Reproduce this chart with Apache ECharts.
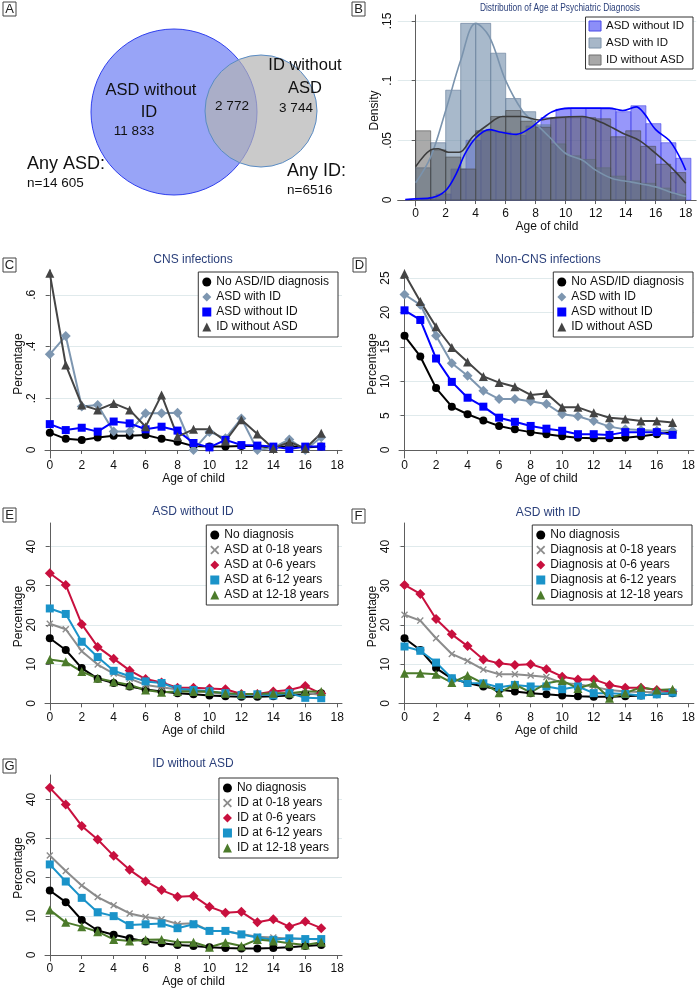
<!DOCTYPE html>
<html>
<head>
<meta charset="utf-8">
<script src="https://cdn.jsdelivr.net/npm/echarts@6/dist/echarts.min.js"></script>
<style>
  html, body { margin: 0; padding: 0; background: #fff; }
  #fig { width: 698px; height: 991px; }
</style>
</head>
<body>
<div id="fig"></div>
<script>
// ---- data ----
const ages = [0, 1, 2, 3, 4, 5, 6, 7, 8, 9, 10, 11, 12, 13, 14, 15, 16, 17];
const ageTicks = [0, 2, 4, 6, 8, 10, 12, 14, 16, 18];

// panel A (venn)
const vennCounts = ['11 833', '2 772', '3 744'];
const vennTotals = ['n=14 605', 'n=6516'];

// panel B: histogram bins (start age, density) and kernel density curves
const binStarts = [0, 1, 2, 3, 4, 5, 6, 7, 8, 9, 10, 11, 12, 13, 14, 15, 16, 17];
const binStartsAsdNoId = [0.35, 1.35, 2.35, 3.35, 4.35, 5.35, 6.35, 7.35, 8.35, 9.35, 10.35, 11.35, 12.35, 13.35, 14.35, 15.35, 16.35, 17.35];
const histAsdNoId = [0.001, 0.005, 0.026, 0.05, 0.058, 0.057, 0.054, 0.062, 0.069, 0.076, 0.077, 0.077, 0.076, 0.074, 0.079, 0.064, 0.048, 0.035];
const histAsdId = [0.027, 0.048, 0.092, 0.148, 0.148, 0.123, 0.085, 0.074, 0.063, 0.047, 0.037, 0.034, 0.027, 0.02, 0.016, 0.014, 0.01, 0.005];
const histIdNoAsd = [0.058, 0.042, 0.036, 0.026, 0.058, 0.070, 0.075, 0.066, 0.061, 0.069, 0.069, 0.069, 0.068, 0.053, 0.058, 0.045, 0.030, 0.023];
const kdeAsdNoId = [[-0.7, 0.0005], [0, 0.001], [1.1, 0.002], [2, 0.008], [2.7, 0.022], [3.3, 0.039], [4, 0.052], [4.9, 0.059], [5.6, 0.057], [6.7, 0.055], [7.6, 0.060], [8.3, 0.067], [9.1, 0.074], [10.2, 0.077], [11.6, 0.077], [12.9, 0.077], [13.8, 0.075], [14.7, 0.078], [15.2, 0.073], [16, 0.059], [16.9, 0.050], [17.6, 0.036], [18, 0.025]];
const kdeAsdId = [[0, 0.0145], [1, 0.036], [2, 0.075], [3, 0.117], [4, 0.148], [4.9, 0.137], [6, 0.100], [7.1, 0.075], [8, 0.064], [8.9, 0.053], [10, 0.039], [11.1, 0.0335], [12, 0.025], [13.1, 0.018], [14.4, 0.015], [16, 0.011], [16.9, 0.007], [18, 0.003]];
const kdeIdNoAsd = [[0, 0.028], [1, 0.042], [1.5, 0.043], [2.2, 0.040], [2.9, 0.040], [3.8, 0.053], [4.7, 0.062], [5.8, 0.070], [7.1, 0.070], [8.2, 0.067], [9.3, 0.069], [11.1, 0.070], [12.4, 0.065], [13.8, 0.056], [14.9, 0.050], [16, 0.039], [17.1, 0.0265], [18, 0.014]];

// panel C: CNS infections (%)
const cnsNone = [0.067, 0.043, 0.039, 0.048, 0.055, 0.055, 0.058, 0.043, 0.032, 0.015, 0.013, 0.013, 0.015, 0.015, 0.009, 0.015, 0.010, 0.013];
const cnsAsdId = [0.37, 0.441, 0.168, 0.174, 0.071, 0.071, 0.142, 0.142, 0.144, 0, 0.07, 0.045, 0.122, 0, 0.009, 0.041, 0, 0.049];
const cnsAsdNoId = [0.10, 0.077, 0.086, 0.071, 0.11, 0.103, 0.08, 0.09, 0.075, 0.027, 0.01, 0.039, 0.019, 0.017, 0.013, 0.004, 0.013, 0.013];
const cnsIdNoAsd = [0.683, 0.329, 0.174, 0.155, 0.18, 0.155, 0.09, 0.213, 0.052, 0.08, 0.08, 0.034, 0.117, 0.062, 0.006, 0.031, 0.006, 0.065];

// panel D: non-CNS infections (%)
const nonCnsNone = [16.6, 13.6, 9.0, 6.3, 5.2, 4.3, 3.5, 3.0, 2.6, 2.3, 2.0, 1.8, 1.7, 1.7, 1.8, 2.0, 2.3, 2.6];
const nonCnsAsdId = [22.6, 21.1, 16.6, 12.6, 10.8, 8.6, 7.4, 7.4, 7.1, 6.7, 5.2, 4.9, 4.2, 3.4, 3.0, 2.9, 2.8, 2.8];
const nonCnsAsdNoId = [20.3, 18.9, 13.3, 9.9, 7.6, 6.3, 4.7, 4.1, 3.5, 3.1, 2.8, 2.3, 2.3, 2.2, 2.6, 2.6, 2.6, 2.2];
const nonCnsIdNoAsd = [25.6, 21.6, 17.9, 14.9, 12.8, 10.7, 9.8, 9.2, 8.0, 8.2, 6.2, 6.2, 5.4, 4.7, 4.5, 4.2, 4.2, 4.0];

// panel E: ASD without ID, by age at diagnosis
const asdNoId06 = [33.2, 30.2, 20.2, 14.4, 11.4, 8.4, 6.2, 5.3, 4.0, 4.0, 3.8, 3.6, 2.4, 2.4, 3.0, 3.4, 4.4, 2.5];
const asdNoId612 = [24.2, 22.8, 15.7, 11.8, 8.3, 6.9, 5.6, 5.2, 3.7, 3.4, 3.1, 2.6, 2.1, 2.3, 2.0, 2.6, 1.4, 1.3];
const asdNoId1218 = [11.2, 10.6, 8.1, 6.4, 5.5, 4.7, 3.4, 2.8, 3.0, 3.0, 3.0, 2.6, 2.4, 2.4, 2.6, 2.6, 3.0, 3.0];

// panel F: ASD with ID, by age at diagnosis
const asdId06 = [30.2, 27.9, 21.5, 17.6, 14.6, 11.2, 10.2, 9.8, 10.0, 8.7, 6.8, 6.1, 6.1, 4.7, 4.0, 4.0, 3.4, 3.0];
const asdId612 = [14.5, 13.4, 10.4, 6.4, 5.2, 5.1, 4.1, 4.7, 4.3, 4.3, 3.6, 4.3, 2.6, 2.6, 2.4, 2.0, 2.3, 2.7];
const asdId1218 = [7.7, 7.7, 7.4, 5.3, 7.1, 5.1, 2.7, 4.8, 2.8, 5.1, 5.8, 3.8, 5.1, 1.3, 2.6, 4.1, 3.4, 3.6];

// panel G: ID without ASD, by age at diagnosis
const idNoAsd06 = [43.0, 38.7, 33.2, 29.7, 25.5, 21.9, 19.0, 16.7, 15.0, 15.2, 12.4, 10.9, 11.1, 8.4, 9.2, 7.3, 8.6, 6.9];
const idNoAsd612 = [23.3, 18.9, 14.7, 11.0, 10.0, 7.7, 7.9, 8.1, 6.9, 7.9, 6.2, 6.2, 5.3, 4.5, 3.9, 4.3, 4.1, 4.1];
const idNoAsd1218 = [11.6, 8.4, 7.3, 6.0, 4.0, 3.6, 3.9, 4.0, 3.3, 3.3, 2.0, 3.2, 2.3, 4.0, 3.6, 3.0, 2.6, 3.3];

// ---- styling ----
const FONT = '"Liberation Sans", Arial, sans-serif';
const TITLE_COLOR = '#2a3f7a';
const AXIS_COLOR = '#5e5e5e';
const GRID_COLOR = '#e0eaec';
const COL = {
    black: '#000000', steel: '#7d96b0', blue: '#0000ff', dark: '#444444',
    gray: '#8c8c8c', red: '#c8103e', cyan: '#1a93c9', green: '#4c7b2b'
};
const CROSS = 'path://M0,1.4L1.4,0L5,3.6L8.6,0L10,1.4L6.4,5L10,8.6L8.6,10L5,6.4L1.4,10L0,8.6L3.6,5Z';
const SYM = {
    circle: ['circle', 8], diamond: ['diamond', 10], square: ['rect', 8],
    triangle: ['triangle', 9], cross: [CROSS, 7]
};

const chart = echarts.init(document.getElementById('fig'));

// plot regions (px) and axis ranges
const panels = [
    { key: 'B', left: 397.7, top: 15, width: 298.5, height: 191, x: [-1.2, 18.7], y: [-0.005, 0.155], yTicks: [0, 0.05, 0.1, 0.15], yName: 'Density', yGap: 15, yMargin: 4 },
    { key: 'C', left: 45, top: 270, width: 297, height: 188, x: [-0.3, 18.3], y: [-0.031, 0.696], yTicks: [0, 0.2, 0.4, 0.6], yName: 'Percentage', yGap: 20, yMargin: 7 },
    { key: 'D', left: 399, top: 270, width: 295.3, height: 188, x: [-0.35, 18.35], y: [-1.16, 26.16], yTicks: [0, 5, 10, 15, 20, 25], yName: 'Percentage', yGap: 18, yMargin: 7 },
    { key: 'E', left: 45, top: 523, width: 297, height: 187, x: [-0.3, 18.3], y: [-1.7, 46], yTicks: [0, 10, 20, 30, 40], yName: 'Percentage', yGap: 20, yMargin: 7 },
    { key: 'F', left: 399, top: 523, width: 295.3, height: 187, x: [-0.35, 18.35], y: [-1.7, 46], yTicks: [0, 10, 20, 30, 40], yName: 'Percentage', yGap: 18, yMargin: 7 },
    { key: 'G', left: 45, top: 775, width: 297, height: 186, x: [-0.3, 18.3], y: [-1.54, 46.3], yTicks: [0, 10, 20, 30, 40], yName: 'Percentage', yGap: 20, yMargin: 7 }
];

const fmtTick = v => (v === 0 ? '0' : String(v).replace(/^0\./, '.'));

const grids = panels.map(p => ({ left: p.left, top: p.top, width: p.width, height: p.height, containLabel: false }));
const xAxes = panels.map((p, i) => ({
    type: 'value', gridIndex: i, min: p.x[0], max: p.x[1],
    name: 'Age of child', nameLocation: 'middle', nameGap: 15,
    nameTextStyle: { fontFamily: FONT, fontSize: 12, color: '#111' },
    axisLine: { lineStyle: { color: AXIS_COLOR } },
    axisTick: { length: 4, lineStyle: { color: AXIS_COLOR }, customValues: ageTicks },
    axisLabel: { margin: 2, fontFamily: FONT, fontSize: 12, color: '#111', customValues: ageTicks },
    splitLine: { show: false }
}));
const yAxes = panels.map((p, i) => ({
    type: 'value', gridIndex: i, min: p.y[0], max: p.y[1],
    name: p.yName, nameLocation: 'middle', nameGap: p.yGap,
    nameTextStyle: { fontFamily: FONT, fontSize: 12, color: '#111' },
    axisLine: { show: true, lineStyle: { color: AXIS_COLOR } },
    axisTick: { show: true, length: 4, lineStyle: { color: AXIS_COLOR }, customValues: p.yTicks },
    axisLabel: { rotate: 90, margin: p.yMargin, fontFamily: FONT, fontSize: 12, color: '#111', customValues: p.yTicks, formatter: fmtTick },
    splitLine: { show: true, lineStyle: { color: GRID_COLOR, width: 1 } }
}));

// ---- series ----
function histSeries(name, starts, heights, fill, stroke) {
    return {
        type: 'custom', name: name, xAxisIndex: 0, yAxisIndex: 0,
        data: starts.map((s, i) => [s, heights[i]]),
        encode: { x: 0, y: 1 },
        renderItem: (params, api) => {
            const x0 = api.value(0);
            const h = api.value(1);
            const p0 = api.coord([x0, 0]);
            const p1 = api.coord([x0 + 1, h]);
            return {
                type: 'rect',
                shape: { x: p0[0], y: p1[1], width: p1[0] - p0[0], height: p0[1] - p1[1] },
                style: { fill: fill, stroke: stroke, lineWidth: 0.8 }
            };
        }
    };
}
function kdeSeries(name, pts, color) {
    return {
        type: 'line', name: name, xAxisIndex: 0, yAxisIndex: 0, data: pts,
        showSymbol: false, smooth: 0.35, lineStyle: { color: color, width: 1.6 }, itemStyle: { color: color },
        silent: true, z: 5
    };
}
function lineSeries(idx, name, values, color, sym) {
    return {
        type: 'line', name: name, xAxisIndex: idx, yAxisIndex: idx,
        data: ages.map((a, i) => [a, values[i]]),
        symbol: SYM[sym][0], symbolSize: SYM[sym][1], showAllSymbol: true,
        lineStyle: { color: color, width: 2 }, itemStyle: { color: color },
        clip: false, z: 3
    };
}

const BLUE_FILL = 'rgba(55,55,245,0.52)';
const STEEL_FILL = 'rgba(110,138,168,0.6)';
const GRAY_FILL = 'rgba(85,85,85,0.5)';

const series = [
    histSeries('ASD without ID', binStartsAsdNoId, histAsdNoId, BLUE_FILL, 'rgba(60,60,230,0.7)'),
    histSeries('ASD with ID', binStarts, histAsdId, STEEL_FILL, 'rgba(100,125,155,0.8)'),
    histSeries('ID without ASD', binStarts, histIdNoAsd, GRAY_FILL, 'rgba(70,70,70,0.7)'),
    kdeSeries('kde ASD with ID', kdeAsdId, '#7a93ad'),
    kdeSeries('kde ID without ASD', kdeIdNoAsd, '#3c3c3c'),
    kdeSeries('kde ASD without ID', kdeAsdNoId, '#0000ff'),

    lineSeries(1, 'No ASD/ID diagnosis', cnsNone, COL.black, 'circle'),
    lineSeries(1, 'ASD with ID', cnsAsdId, COL.steel, 'diamond'),
    lineSeries(1, 'ASD without ID', cnsAsdNoId, COL.blue, 'square'),
    lineSeries(1, 'ID without ASD', cnsIdNoAsd, COL.dark, 'triangle'),

    lineSeries(2, 'No ASD/ID diagnosis', nonCnsNone, COL.black, 'circle'),
    lineSeries(2, 'ASD with ID', nonCnsAsdId, COL.steel, 'diamond'),
    lineSeries(2, 'ASD without ID', nonCnsAsdNoId, COL.blue, 'square'),
    lineSeries(2, 'ID without ASD', nonCnsIdNoAsd, COL.dark, 'triangle'),

    lineSeries(3, 'No diagnosis', nonCnsNone, COL.black, 'circle'),
    lineSeries(3, 'ASD at 0-18 years', nonCnsAsdNoId, COL.gray, 'cross'),
    lineSeries(3, 'ASD at 0-6 years', asdNoId06, COL.red, 'diamond'),
    lineSeries(3, 'ASD at 6-12 years', asdNoId612, COL.cyan, 'square'),
    lineSeries(3, 'ASD at 12-18 years', asdNoId1218, COL.green, 'triangle'),

    lineSeries(4, 'No diagnosis', nonCnsNone, COL.black, 'circle'),
    lineSeries(4, 'Diagnosis at 0-18 years', nonCnsAsdId, COL.gray, 'cross'),
    lineSeries(4, 'Diagnosis at 0-6 years', asdId06, COL.red, 'diamond'),
    lineSeries(4, 'Diagnosis at 6-12 years', asdId612, COL.cyan, 'square'),
    lineSeries(4, 'Diagnosis at 12-18 years', asdId1218, COL.green, 'triangle'),

    lineSeries(5, 'No diagnosis', nonCnsNone, COL.black, 'circle'),
    lineSeries(5, 'ID at 0-18 years', nonCnsIdNoAsd, COL.gray, 'cross'),
    lineSeries(5, 'ID at 0-6 years', idNoAsd06, COL.red, 'diamond'),
    lineSeries(5, 'ID at 6-12 years', idNoAsd612, COL.cyan, 'square'),
    lineSeries(5, 'ID at 12-18 years', idNoAsd1218, COL.green, 'triangle')
];

// ---- legends ----
function item(name, color, sym) {
    return { name: name, icon: SYM[sym][0], itemStyle: { color: color, borderWidth: 0 } };
}
function legendBox(pos, data) {
    return Object.assign({
        orient: 'vertical', align: 'left', itemWidth: 9, itemHeight: 9, itemGap: 3,
        padding: [4, 9, 4, 4], borderColor: '#333', borderWidth: 1, backgroundColor: '#fff',
        selectedMode: false,
        textStyle: { fontFamily: FONT, fontSize: 12, color: '#111' },
        data: data
    }, pos);
}
const legendInfections = () => [
    item('No ASD/ID diagnosis', COL.black, 'circle'),
    item('ASD with ID', COL.steel, 'diamond'),
    item('ASD without ID', COL.blue, 'square'),
    item('ID without ASD', COL.dark, 'triangle')
];
const legendByAge = labels => [
    item(labels[0], COL.black, 'circle'),
    item(labels[1], COL.gray, 'cross'),
    item(labels[2], COL.red, 'diamond'),
    item(labels[3], COL.cyan, 'square'),
    item(labels[4], COL.green, 'triangle')
];
const legends = [
    legendBox({ right: 5, top: 17, itemWidth: 12, itemHeight: 10, itemGap: 5, padding: [3, 9, 3, 3],
        textStyle: { fontFamily: FONT, fontSize: 11.5, color: '#111' } }, [
        { name: 'ASD without ID', icon: 'rect', itemStyle: { color: '#8c8ef8', borderColor: '#4a4ae8', borderWidth: 1 } },
        { name: 'ASD with ID', icon: 'rect', itemStyle: { color: '#a7b7c8', borderColor: '#7c92aa', borderWidth: 1 } },
        { name: 'ID without ASD', icon: 'rect', itemStyle: { color: '#a8a8a8', borderColor: '#6e6e6e', borderWidth: 1 } }
    ]),
    legendBox({ right: 360, top: 272 }, legendInfections()),
    legendBox({ right: 5, top: 272 }, legendInfections()),
    legendBox({ right: 360, top: 525 }, legendByAge(['No diagnosis', 'ASD at 0-18 years', 'ASD at 0-6 years', 'ASD at 6-12 years', 'ASD at 12-18 years'])),
    legendBox({ right: 6, top: 525 }, legendByAge(['No diagnosis', 'Diagnosis at 0-18 years', 'Diagnosis at 0-6 years', 'Diagnosis at 6-12 years', 'Diagnosis at 12-18 years'])),
    legendBox({ right: 360, top: 778 }, legendByAge(['No diagnosis', 'ID at 0-18 years', 'ID at 0-6 years', 'ID at 6-12 years', 'ID at 12-18 years']))
];

// ---- graphic: venn, panel letters, titles ----
function txt(text, x, y, size, opts, extra) {
    return Object.assign({
        type: 'text', x: x, y: y, z: 10,
        style: Object.assign({ text: text, fill: '#111', fontFamily: FONT, fontSize: size, align: 'center', verticalAlign: 'middle' }, opts || {})
    }, extra || {});
}
function letter(ch, x, y) {
    return [
        { type: 'rect', shape: { x: x, y: y, width: 13, height: 14 }, style: { fill: '#fff', stroke: '#444', lineWidth: 1 }, z: 10 },
        txt(ch, x + 6.5, y + 7.5, 13, { fill: '#222' })
    ];
}
const graphics = [
    { type: 'circle', shape: { cx: 174, cy: 112, r: 83 }, style: { fill: '#98a4f7', stroke: '#3040ee', lineWidth: 1 }, z: 1 },
    { type: 'circle', shape: { cx: 261, cy: 111, r: 56 }, style: { fill: 'rgba(178,178,178,0.69)', stroke: '#5a8cc4', lineWidth: 1 }, z: 2 },
    txt('ASD without', 151, 90, 16.5),
    txt('ID', 149, 112, 16.5),
    txt(vennCounts[0], 134, 131, 13.5),
    txt(vennCounts[1], 232, 106, 13.5),
    txt('ID without', 305, 65, 16.5),
    txt('ASD', 305, 88, 16.5),
    txt(vennCounts[2], 296, 108, 13.5),
    txt('Any ASD:', 27, 164, 18, { align: 'left' }),
    txt(vennTotals[0], 27, 183, 13.5, { align: 'left' }),
    txt('Any ID:', 287, 171, 18, { align: 'left' }),
    txt(vennTotals[1], 287, 190, 13.5, { align: 'left' }),

    txt('Distribution of Age at Psychiatric Diagnosis', 560, 8, 10.5, { fill: TITLE_COLOR }, { scaleX: 0.8 }),
    txt('CNS infections', 193, 260, 12, { fill: TITLE_COLOR }),
    txt('Non-CNS infections', 548, 260, 12, { fill: TITLE_COLOR }),
    txt('ASD without ID', 193, 512, 12, { fill: TITLE_COLOR }),
    txt('ASD with ID', 548, 513, 12, { fill: TITLE_COLOR }),
    txt('ID without ASD', 193, 764, 12, { fill: TITLE_COLOR })
].concat(
    letter('A', 3, 2), letter('B', 352, 2), letter('C', 3, 258), letter('D', 353, 258),
    letter('E', 3, 508), letter('F', 352, 509), letter('G', 3, 759)
);

chart.setOption({
    backgroundColor: '#fff',
    animation: false,
    grid: grids,
    xAxis: xAxes,
    yAxis: yAxes,
    legend: legends,
    series: series,
    graphic: graphics
});
</script>
</body>
</html>
